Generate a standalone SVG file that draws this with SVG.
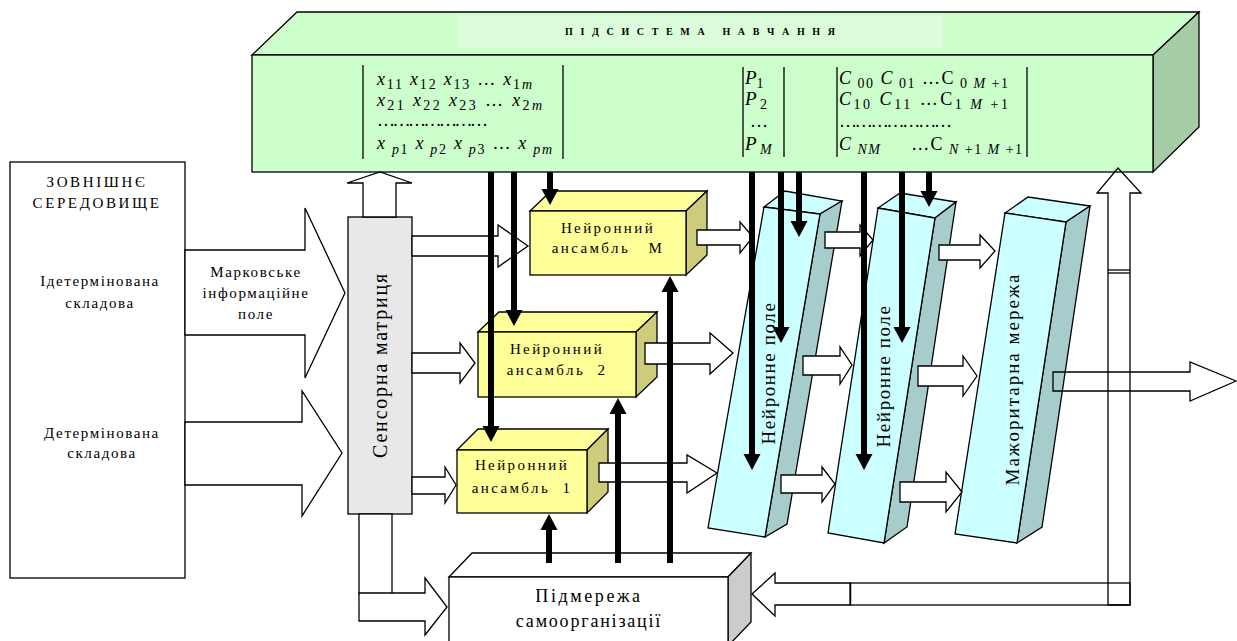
<svg xmlns="http://www.w3.org/2000/svg" width="1237" height="641" viewBox="0 0 1237 641">
  <style>
    text { font-family: "Liberation Serif", "DejaVu Serif", serif; fill: #000; }
    .ln { stroke: #000; stroke-width: 1.3; stroke-linejoin: miter; }
    .wa { fill: #fff; stroke: #000; stroke-width: 1.3; }
    .na { fill: none; stroke: #000; stroke-width: 1.3; }
    .bar { stroke: #000; stroke-width: 6; fill: none; marker-end: url(#head); }
    .lbl { font-size: 15px; text-anchor: middle; letter-spacing: 1.6px; }
    .ens { font-size: 15px; text-anchor: middle; letter-spacing: 2.4px; }
    .vt { font-size: 19px; text-anchor: middle; letter-spacing: 1.6px; }
    .mx { font-size: 18px; }
    .i { font-style: italic; }
    .sb { font-size: 14px; }
    .g-front { fill: #ccffcc; }
    .g-side { fill: #a6cca6; }
    .y-front { fill: #ffff99; }
    .y-side { fill: #cccc7a; }
    .c-front { fill: #ccffff; }
    .c-side { fill: #a6cccc; }
  </style>
  <defs>
    <marker id="head" markerUnits="userSpaceOnUse" markerWidth="17" markerHeight="17" refX="0" refY="8.5" orient="auto" overflow="visible">
      <path d="M0,0 L16,8.5 L0,17 z" fill="#000"/>
    </marker>
  </defs>

  <rect width="1237" height="641" fill="#fff"/>

  <!-- Learning subsystem (long prism at the top) -->
  <g id="learning">
    <polygon class="ln g-front" points="252,55 297,12 1199,12 1153,55"/>
    <rect x="458" y="15" width="485" height="33" fill="#dcfddc"/>
    <polygon class="ln g-side" points="1153,55 1199,12 1199,127 1153,172"/>
    <rect class="ln g-front" x="252" y="55" width="901" height="117"/>
    <text x="700" y="35" font-size="10" font-weight="bold" text-anchor="middle" textLength="270" lengthAdjust="spacing" xml:space="preserve">П І Д С И С Т Е М А   Н А В Ч А Н Н Я</text>

    <!-- sample matrix -->
    <line class="ln" x1="363" y1="65" x2="363" y2="159"/>
    <line class="ln" x1="563" y1="65" x2="563" y2="159"/>
    <text class="mx" x="377" y="85" textLength="155" lengthAdjust="spacing"><tspan class="i">x</tspan><tspan class="sb" dy="4">11</tspan><tspan dy="-4"> </tspan><tspan class="i">x</tspan><tspan class="sb" dy="4">12</tspan><tspan dy="-4"> </tspan><tspan class="i">x</tspan><tspan class="sb" dy="4">13</tspan><tspan dy="-4"> … </tspan><tspan class="i">x</tspan><tspan class="sb" dy="4">1<tspan class="i">m</tspan></tspan></text>
    <text class="mx" x="377" y="106" textLength="165" lengthAdjust="spacing"><tspan class="i">x</tspan><tspan class="sb" dy="4">21</tspan><tspan dy="-4"> </tspan><tspan class="i">x</tspan><tspan class="sb" dy="4">22</tspan><tspan dy="-4"> </tspan><tspan class="i">x</tspan><tspan class="sb" dy="4">23</tspan><tspan dy="-4"> … </tspan><tspan class="i">x</tspan><tspan class="sb" dy="4">2<tspan class="i">m</tspan></tspan></text>
    <text class="mx" x="377" y="126" textLength="111" lengthAdjust="spacing">…………………</text>
    <text class="mx" x="377" y="149" textLength="175" lengthAdjust="spacing"><tspan class="i">x</tspan><tspan class="sb" dy="5"> <tspan class="i">p</tspan>1</tspan><tspan dy="-5"> </tspan><tspan class="i">x</tspan><tspan class="sb" dy="5"> <tspan class="i">p</tspan>2</tspan><tspan dy="-5"> </tspan><tspan class="i">x</tspan><tspan class="sb" dy="5"> <tspan class="i">p</tspan>3</tspan><tspan dy="-5"> … </tspan><tspan class="i">x</tspan><tspan class="sb" dy="5"> <tspan class="i">pm</tspan></tspan></text>

    <!-- probability vector -->
    <line class="ln" x1="743" y1="67" x2="743" y2="157"/>
    <line class="ln" x1="784" y1="67" x2="784" y2="157"/>
    <text class="mx" x="745" y="84" style="font-size:19px"><tspan class="i">P</tspan><tspan class="sb" dy="4">1</tspan></text>
    <text class="mx" x="745" y="105" style="font-size:19px"><tspan class="i">P</tspan><tspan class="sb" dy="4"> 2</tspan></text>
    <text class="mx" x="750" y="127">…</text>
    <text class="mx" x="745" y="150" style="font-size:19px"><tspan class="i">P</tspan><tspan class="sb" dy="4"> <tspan class="i">M</tspan></tspan></text>

    <!-- weight matrix -->
    <line class="ln" x1="837" y1="67" x2="837" y2="157"/>
    <line class="ln" x1="1027" y1="67" x2="1027" y2="157"/>
    <text class="mx" x="839" y="84" textLength="169" lengthAdjust="spacing"><tspan class="i">C</tspan><tspan class="sb" dy="4"> 00</tspan><tspan dy="-4"> </tspan><tspan class="i">C</tspan><tspan class="sb" dy="4"> 01</tspan><tspan dy="-4"> …С</tspan><tspan class="sb" dy="4"> 0 <tspan class="i">M</tspan> +1</tspan></text>
    <text class="mx" x="839" y="105" textLength="169" lengthAdjust="spacing"><tspan class="i">C</tspan><tspan class="sb" dy="4">10</tspan><tspan dy="-4">  </tspan><tspan class="i">C</tspan><tspan class="sb" dy="4">11</tspan><tspan dy="-4"> …С</tspan><tspan class="sb" dy="4">1 <tspan class="i">M</tspan> +1</tspan></text>
    <text class="mx" x="839" y="127" textLength="113" lengthAdjust="spacing">…………………</text>
    <text class="mx" x="839" y="150" textLength="183" lengthAdjust="spacing" xml:space="preserve"><tspan class="i">C</tspan><tspan class="sb" dy="4"> <tspan class="i">NM</tspan></tspan><tspan dy="-4">     …С</tspan><tspan class="sb" dy="4"> <tspan class="i">N</tspan> +1 <tspan class="i">M</tspan> +1</tspan></text>
  </g>

  <!-- External environment -->
  <g id="environment">
    <rect class="ln" x="10" y="162" width="175" height="416" fill="#fff"/>
    <text class="lbl" x="97" y="187" style="letter-spacing:2.6px">ЗОВНІШНЄ</text>
    <text class="lbl" x="97" y="208" style="letter-spacing:2.6px">СЕРЕДОВИЩЕ</text>
    <text class="lbl" x="100" y="286">Ідетермінована</text>
    <text class="lbl" x="100" y="308">складова</text>
    <text class="lbl" x="102" y="438">Детермінована</text>
    <text class="lbl" x="102" y="458">складова</text>
  </g>

  <!-- Sensor matrix -->
  <g id="sensor">
    <rect class="ln" x="348" y="217" width="64" height="297" fill="#e8e8e8"/>
    <text class="vt" transform="translate(387,365) rotate(-90)" style="font-size:20px;letter-spacing:1.8px">Сенсорна матриця</text>
  </g>

  <!-- Neural ensembles -->
  <g id="ensemble-m">
    <polygon class="ln y-front" points="530,211 551,191 707,191 686,211"/>
    <polygon class="ln y-side" points="686,211 707,191 707,255 686,275"/>
    <rect class="ln y-front" x="530" y="211" width="156" height="64"/>
    <text class="ens" x="608" y="233">Нейронний</text>
    <text class="ens" x="608" y="253" xml:space="preserve">ансамбль   М</text>
  </g>
  <g id="ensemble-2">
    <polygon class="ln y-front" points="478,332 499,312 657,312 636,332"/>
    <polygon class="ln y-side" points="636,332 657,312 657,377 636,397"/>
    <rect class="ln y-front" x="478" y="332" width="158" height="65"/>
    <text class="ens" x="557" y="354">Нейронний</text>
    <text class="ens" x="557" y="375" xml:space="preserve">ансамбль  2</text>
  </g>
  <g id="ensemble-1">
    <polygon class="ln y-front" points="457,450 478,429 608,429 587,450"/>
    <polygon class="ln y-side" points="587,450 608,429 608,492 587,513"/>
    <rect class="ln y-front" x="457" y="450" width="130" height="63"/>
    <text class="ens" x="522" y="470">Нейронний</text>
    <text class="ens" x="522" y="493" xml:space="preserve">ансамбль  1</text>
  </g>

  <!-- Neural fields and majority network -->
  <g id="field-1">
    <polygon class="ln c-front" points="764,207 785,191 842,201 820,214"/>
    <polygon class="ln c-side" points="820,214 842,201 787,524 765,537"/>
    <polygon class="ln c-front" points="764,207 820,214 765,537 708,528"/>
    <text class="vt" transform="translate(775,373) rotate(-90)">Нейронне поле</text>
  </g>
  <g id="field-2">
    <polygon class="ln c-front" points="878,208 900,193 956,202 935,218"/>
    <polygon class="ln c-side" points="935,218 956,202 907,527 884,543"/>
    <polygon class="ln c-front" points="878,208 935,218 884,543 828,533"/>
    <text class="vt" transform="translate(890,376) rotate(-90)">Нейронне поле</text>
  </g>
  <g id="majority">
    <polygon class="ln c-front" points="1005,213 1028,197 1090,206 1066,222"/>
    <polygon class="ln c-side" points="1066,222 1090,206 1042,527 1017,543"/>
    <polygon class="ln c-front" points="1005,213 1066,222 1017,543 955,534"/>
    <text class="vt" transform="translate(1019,379) rotate(-90)" style="letter-spacing:2px">Мажоритарна мережа</text>
  </g>

  <!-- Self-organisation subnetwork -->
  <g id="selforg">
    <polygon class="ln" fill="#fff" points="449,577 472,553 751,553 728,577"/>
    <polygon class="ln" fill="#cccccc" points="728,577 751,553 751,622 728,646"/>
    <rect class="ln" x="449" y="577" width="279" height="70" fill="#fff"/>
    <text class="ens" x="589" y="602" style="font-size:18px;letter-spacing:2.6px">Підмережа</text>
    <text class="ens" x="589" y="627" style="font-size:18px;letter-spacing:1.8px">самоорганізації</text>
  </g>

  <!-- Connectors -->
  <g id="connectors">
    <!-- wide inputs from the environment -->
    <polygon class="wa" points="185,250 305,250 305,208 345,293 305,378 305,335 185,335"/>
    <text class="lbl" x="256" y="277">Марковське</text>
    <text class="lbl" x="256" y="298">інформаційне</text>
    <text class="lbl" x="256" y="319">поле</text>
    <polygon class="wa" points="185,422 302,422 302,391 342,453 302,516 302,485 185,485"/>

    <!-- sensor matrix up to learning subsystem -->
    <polygon class="wa" points="363,217 363,183 347,183 380,172 412,183 396,183 396,217"/>
    <!-- sensor matrix down to self-organisation -->
    <rect class="wa" x="359" y="514" width="33" height="80"/>
    <polygon class="wa" points="359,593 425,593 425,578 447,607 425,635 425,621 359,621"/>

    <!-- sensor matrix to ensembles -->
    <polygon class="wa" points="412,236 498,236 498,225 528,246 498,267 498,256 412,256"/>
    <polygon class="wa" points="412,353 460,353 460,343 475,363 460,383 460,373 412,373"/>
    <polygon class="wa" points="412,477 445,477 445,467 456,485 445,503 445,494 412,494"/>

    <!-- ensembles to first field -->
    <polygon class="wa" points="697,230 740,230 740,222 753,237 740,253 740,245 697,245"/>
    <polygon class="wa" points="645,343 710,343 710,333 733,353 710,374 710,364 645,364"/>
    <polygon class="wa" points="599,463 687,463 687,455 717,473 687,493 687,482 599,482"/>

    <!-- first field to second field -->
    <polygon class="wa" points="825,232 860,232 860,225 873,240 860,256 860,248 825,248"/>
    <polygon class="wa" points="803,356 840,356 840,347 852,365 840,384 840,375 803,375"/>
    <polygon class="wa" points="781,475 822,475 822,467 835,484 822,502 822,493 781,493"/>

    <!-- second field to majority network -->
    <polygon class="wa" points="939,245 980,245 980,235 995,251 980,268 980,260 939,260"/>
    <polygon class="wa" points="918,366 963,366 963,356 977,376 963,396 963,386 918,386"/>
    <polygon class="wa" points="900,482 946,482 946,472 962,492 946,512 946,502 900,502"/>

    <!-- majority output -->
    <polygon class="na" points="1053,372 1190,372 1190,362 1236,381 1190,401 1190,391 1053,391"/>

    <!-- feedback loop -->
    <polygon class="na" points="1108,605 1108,193 1097,193 1118,168 1141,193 1130,193 1130,605"/>
    <line class="ln" x1="1108" y1="270" x2="1130" y2="270"/>
    <line class="ln" x1="1108" y1="273" x2="1130" y2="273"/>
    <rect class="na" x="850" y="583" width="280" height="22"/>
    <line x1="850" y1="583" x2="850" y2="605" stroke="#000" stroke-width="2.5"/>
    <polygon class="wa" points="850,583 775,583 775,573 752,594 775,616 775,605 850,605"/>

    <!-- learning subsystem to ensembles and fields -->
    <line class="bar" x1="491" y1="172" x2="491" y2="426"/>
    <line class="bar" x1="514" y1="172" x2="514" y2="310"/>
    <line class="bar" x1="550" y1="172" x2="550" y2="189"/>
    <line class="bar" x1="752" y1="172" x2="752" y2="454"/>
    <line class="bar" x1="781" y1="172" x2="781" y2="327"/>
    <line class="bar" x1="799" y1="172" x2="799" y2="221"/>
    <line class="bar" x1="864" y1="172" x2="864" y2="454"/>
    <line class="bar" x1="902" y1="172" x2="902" y2="327"/>
    <line class="bar" x1="929" y1="172" x2="929" y2="191"/>

    <!-- self-organisation to ensembles -->
    <line class="bar" x1="549" y1="563" x2="549" y2="530"/>
    <line class="bar" x1="618" y1="563" x2="618" y2="414"/>
    <line class="bar" x1="670" y1="563" x2="670" y2="292"/>
  </g>
</svg>
